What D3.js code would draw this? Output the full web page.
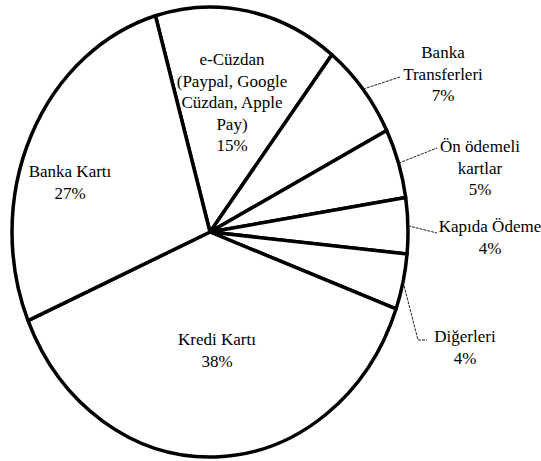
<!DOCTYPE html>
<html>
<head>
<meta charset="utf-8">
<script src="https://cdn.jsdelivr.net/npm/d3@7"></script>
<style>
  body { margin: 0; background: #fff; }
</style>
</head>
<body>
<svg width="541" height="461"></svg>
<script>
// data, clockwise from the top
var categories = ["e-Cüzdan", "Banka Transferleri", "Ön ödemeli kartlar", "Kapıda Ödeme", "Diğerleri", "Kredi Kartı", "Banka Kartı"];
var values = [15, 7, 5, 4, 4, 38, 27];
var labelLines = [
	["e-Cüzdan", "(Paypal, Google", "Cüzdan, Apple", "Pay)"],
	["Banka", "Transferleri"],
	["Ön ödemeli", "kartlar"],
	["Kapıda Ödeme"],
	["Diğerleri"],
	["Kredi Kartı"],
	["Banka Kartı"]
];

// layout: label centre x / first baseline, and leader bends (null = label inside slice)
var labelPos = [[232, 65], [443, 58], [480, 152], [490, 232], [465, 342], [217, 345], [70, 177]];
var leaderPts = [null, [[400, 77]], [[437, 148]], [[437, 233]], [[418, 340], [427, 340]], null, null];

var svg = d3.select("svg"),
    cx = 210, cy = 232, rx = 198, ry = 225,
    lineH = 21.5;

var start = -16 * Math.PI / 180;

var pie = d3.pie()
	.sort(null)
	.value(function(d) { return d; })
	.startAngle(start)
	.endAngle(start + 2 * Math.PI);

var arc = d3.arc()
	.innerRadius(0)
	.outerRadius(ry);

var arcs = pie(values);

svg.append("g")
	.attr("transform", "translate(" + cx + "," + cy + ") scale(" + (rx / ry) + ",1)")
	.selectAll("path")
	.data(arcs)
	.enter().append("path")
	.attr("d", arc)
	.attr("fill", "#fff")
	.attr("stroke", "#000")
	.attr("stroke-width", 3.5)
	.attr("stroke-linejoin", "round")
	.attr("vector-effect", "non-scaling-stroke");

// leader lines from the rim at the slice middle
var line = d3.line();
svg.append("g")
	.selectAll("path")
	.data(arcs.filter(function(d, i) { return leaderPts[i]; }))
	.enter().append("path")
	.attr("d", function(d) {
		var a = (d.startAngle + d.endAngle) / 2;
		var rim = [cx + rx * Math.sin(a), cy - ry * Math.cos(a)];
		return line([rim].concat(leaderPts[d.index]));
	})
	.attr("fill", "none")
	.attr("stroke", "#222")
	.attr("stroke-width", 1)
	.attr("stroke-dasharray", "3,1");

// labels
var label = svg.append("g")
	.attr("font-family", "'Liberation Serif', 'DejaVu Serif', serif")
	.attr("font-size", 17)
	.attr("fill", "#000")
	.selectAll("text")
	.data(arcs)
	.enter().append("text")
	.attr("text-anchor", "middle")
	.attr("x", function(d, i) { return labelPos[i][0]; })
	.attr("y", function(d, i) { return labelPos[i][1]; });

label.each(function(d, i) {
	var t = d3.select(this);
	var lines = labelLines[i].concat([values[i] + "%"]);
	lines.forEach(function(s, j) {
		t.append("tspan")
			.attr("x", labelPos[i][0])
			.attr("y", labelPos[i][1] + j * lineH)
			.text(s);
	});
});
</script>
</body>
</html>
